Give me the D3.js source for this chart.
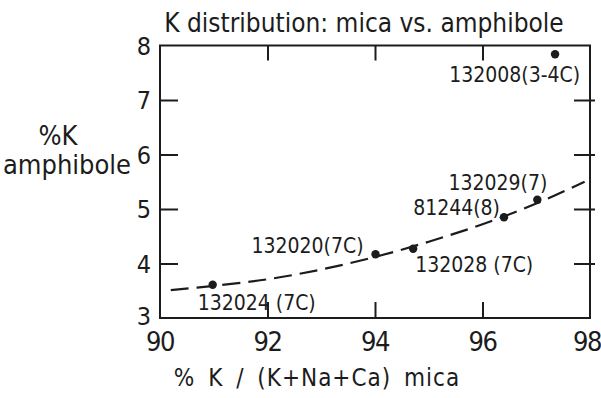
<!DOCTYPE html>
<html>
<head>
<meta charset="utf-8">
<script src="https://cdn.jsdelivr.net/npm/d3@7"></script>
<style>
  body { margin: 0; background: #fff; }
  svg text { font-family: "DejaVu Sans Condensed", "DejaVu Sans", sans-serif; fill: #1c1c1c; }
</style>
</head>
<body>
<div id="chart"></div>
<script>
// sample points
var samples = ["132024 (7C)", "132020(7C)", "132028 (7C)", "81244(8)", "132029(7)", "132008(3-4C)"];
var micaK = [90.98, 94.01, 94.71, 96.40, 97.02, 97.35];
var amphK = [3.61, 4.17, 4.27, 4.85, 5.17, 7.84];

// dashed trend curve
var trendX = [90.2, 91, 92, 93, 94, 95, 96, 97, 97.9];
var trendY = [3.51, 3.59, 3.71, 3.89, 4.12, 4.40, 4.72, 5.10, 5.50];

var xTicks = [90, 92, 94, 96, 98];
var yTicks = [3, 4, 5, 6, 7, 8];

// label placement (anchor, dx, dy from the dot)
var labelPos = [
  ["start", -15, 25],
  ["end", -12, -1],
  ["start", 2, 23],
  ["end", -4, -2],
  ["end", 10, -10],
  ["end", 25, 28]
];

var W = 601, H = 398;
var margin = {top: 45.5, right: 11, bottom: 80, left: 160},
    width = W - margin.left - margin.right,
    height = H - margin.top - margin.bottom;

var svg = d3.select("#chart").append("svg")
    .attr("width", W)
    .attr("height", H)
  .append("g")
    .attr("transform", "translate(" + margin.left + "," + margin.top + ")");

var x = d3.scaleLinear().domain([90, 98]).range([0, width]);
var y = d3.scaleLinear().domain([3, 8]).range([height, 0]);

var ink = "#1c1c1c";

// frame
svg.append("rect")
    .attr("width", width)
    .attr("height", height)
    .attr("fill", "none")
    .attr("stroke", ink)
    .attr("stroke-width", 2);

// inward ticks
function ticks(axis, tv, size) {
  return axis.tickValues(tv).tickSizeInner(size).tickSizeOuter(0).tickFormat("");
}
var tb = svg.append("g").attr("transform", "translate(0," + height + ")")
    .call(ticks(d3.axisBottom(x), [92, 94, 96], -16));
var tt = svg.append("g")
    .call(ticks(d3.axisTop(x), [92, 94, 96], -15));
var tl = svg.append("g")
    .call(ticks(d3.axisLeft(y), [4, 5, 6, 7], -18));
var tr = svg.append("g").attr("transform", "translate(" + width + ",0)")
    .call(ticks(d3.axisRight(y), [4, 5, 6, 7], -16));
tr.selectAll(".tick line").attr("x2", 5).attr("x1", -16);
[tb, tt, tl, tr].forEach(function(g) {
  g.select(".domain").remove();
  g.selectAll(".tick line").attr("stroke", ink).attr("stroke-width", 2);
});

// tick labels
svg.selectAll(".xlab")
    .data(xTicks)
  .enter().append("text")
    .attr("class", "xlab")
    .attr("x", function(d, i) { return x(d) + (i == xTicks.length - 1 ? -3 : 0); })
    .attr("y", height + 33)
    .style("text-anchor", "middle")
    .style("font-size", "27px")
    .style("letter-spacing", "-1.5px")
    .text(function(d) { return d; });

svg.selectAll(".ylab")
    .data(yTicks)
  .enter().append("text")
    .attr("class", "ylab")
    .attr("x", -9)
    .attr("y", function(d, i) { return y(d) + (i == 0 ? 7 : 9); })
    .style("text-anchor", "end")
    .style("font-size", "25px")
    .text(function(d) { return d; });

// titles
svg.append("text")
    .attr("x", 204)
    .attr("y", -14)
    .style("text-anchor", "middle")
    .style("font-size", "26px")
    .text("K distribution: mica vs. amphibole");

svg.append("text")
    .attr("x", 157)
    .attr("y", height + 68)
    .style("text-anchor", "middle")
    .style("font-size", "24px")
    .style("letter-spacing", "1px")
    .style("word-spacing", "5px")
    .text("% K / (K+Na+Ca) mica");

svg.append("text")
    .attr("x", -102)
    .attr("y", 99.5)
    .style("text-anchor", "middle")
    .style("font-size", "27px")
    .text("%K");

svg.append("text")
    .attr("x", -93)
    .attr("y", 128.5)
    .style("text-anchor", "middle")
    .style("font-size", "27px")
    .text("amphibole");

// trend curve
var pts = trendX.map(function(d, i) { return [x(d), y(trendY[i])]; });
svg.append("path")
    .attr("d", d3.line().curve(d3.curveCatmullRom)(pts))
    .attr("fill", "none")
    .attr("stroke", ink)
    .attr("stroke-width", 2.2)
    .attr("stroke-dasharray", "18,8");

// dots
svg.selectAll(".dot")
    .data(micaK)
  .enter().append("circle")
    .attr("class", "dot")
    .attr("r", 4.2)
    .attr("cx", function(d) { return x(d); })
    .attr("cy", function(d, i) { return y(amphK[i]); })
    .attr("fill", ink);

// sample labels
svg.selectAll(".slab")
    .data(samples)
  .enter().append("text")
    .attr("class", "slab")
    .attr("x", function(d, i) { return x(micaK[i]) + labelPos[i][1]; })
    .attr("y", function(d, i) { return y(amphK[i]) + labelPos[i][2]; })
    .style("text-anchor", function(d, i) { return labelPos[i][0]; })
    .style("font-size", "21px")
    .text(function(d) { return d; });
</script>
</body>
</html>
